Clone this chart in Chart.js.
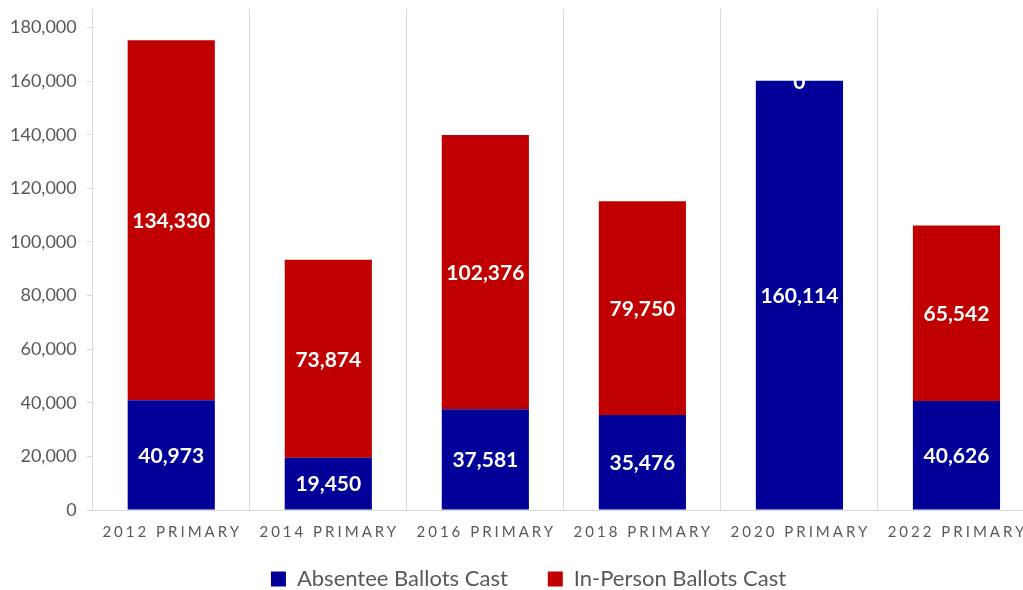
<!DOCTYPE html>
<html lang="en">
<head>
    <meta charset="UTF-8">
    <title>Primary Ballots Cast</title>
    <script src="https://cdn.jsdelivr.net/npm/chart.js"></script>
    <style>
        html, body { margin: 0; padding: 0; background: #fff; overflow: hidden; }
        #wrap { width: 1035px; height: 602px; margin-top: -12px; }
    </style>
</head>
<body>
    <div id="wrap">
        <canvas id="chart1"></canvas>
    </div>

    <script>
        var elecciones = ['2012 PRIMARY', '2014 PRIMARY', '2016 PRIMARY', '2018 PRIMARY', '2020 PRIMARY', '2022 PRIMARY'];
        var ausentes = [40973, 19450, 37581, 35476, 160114, 40626];
        var presenciales = [134330, 73874, 102376, 79750, 0, 65542];
        var marcasY = [0, 20000, 40000, 60000, 80000, 100000, 120000, 140000, 160000, 180000];

        var gris = '#595959';
        var fuente = 'Lato, "Open Sans", sans-serif';

        function miles(v) {
            return v.toString().replace(/\B(?=(\d{3})+(?!\d))/g, ',');
        }

        // etiquetas blancas centradas en cada segmento
        var etiquetas = {
            id: 'etiquetas',
            afterDatasetsDraw: function (chart) {
                var ctx = chart.ctx;
                ctx.save();
                ctx.fillStyle = '#ffffff';
                ctx.font = 'bold 21px ' + fuente;
                ctx.textAlign = 'center';
                ctx.textBaseline = 'middle';
                chart.data.datasets.forEach(function (ds, d) {
                    chart.getDatasetMeta(d).data.forEach(function (bar, i) {
                        var p = bar.getCenterPoint();
                        ctx.fillText(miles(ds.data[i]), p.x, p.y + 1);
                    });
                });
                ctx.restore();
            }
        };

        // nombres de categoria con espaciado entre letras
        var categorias = {
            id: 'categorias',
            afterLayout: function (chart) {
                // leyenda un poco a la derecha
                chart.legend.left += 11;
                chart.legend.right += 11;
            },
            afterDraw: function (chart) {
                var ctx = chart.ctx;
                var x = chart.scales.x;
                ctx.save();
                ctx.fillStyle = gris;
                ctx.font = '15px ' + fuente;
                ctx.letterSpacing = '3px';
                ctx.textAlign = 'center';
                ctx.textBaseline = 'middle';
                elecciones.forEach(function (e, i) {
                    ctx.fillText(e, x.getPixelForTick(i) + 1, x.top + 22);
                });
                ctx.restore();
            }
        };

        var ctx = document.getElementById('chart1').getContext('2d');
        var chart = new Chart(ctx, {
            type: 'bar',
            data: {
                labels: elecciones,
                datasets: [{
                    label: 'Absentee Ballots Cast',
                    data: ausentes,
                    backgroundColor: '#000099'
                }, {
                    label: 'In-Person Ballots Cast',
                    data: presenciales,
                    backgroundColor: '#C00000'
                }]
            },
            options: {
                responsive: true,
                maintainAspectRatio: false,
                animation: false,
                datasets: {
                    bar: { barPercentage: 1, categoryPercentage: 0.555 }
                },
                layout: { padding: { left: 0, right: 0, top: 0, bottom: -10 } },
                plugins: {
                    tooltip: { enabled: false },
                    legend: {
                        position: 'bottom',
                        labels: {
                            color: gris,
                            font: { family: fuente, size: 22 },
                            boxWidth: 15,
                            boxHeight: 15,
                            padding: 40
                        }
                    }
                },
                scales: {
                    x: {
                        stacked: true,
                        grid: { color: '#d9d9d9', lineWidth: 1, drawTicks: false, offset: true },
                        border: { color: '#d9d9d9' },
                        ticks: { color: 'rgba(0,0,0,0)', font: { family: fuente, size: 10 }, padding: 3, maxRotation: 0, autoSkip: false }
                    },
                    y: {
                        stacked: true,
                        min: 0,
                        max: 187000,
                        afterBuildTicks: function (scale) {
                            scale.ticks = marcasY.map(function (v) { return { value: v }; });
                        },
                        grid: { drawOnChartArea: false, drawTicks: true, tickLength: 6, color: '#d9d9d9' },
                        border: { display: false },
                        ticks: {
                            color: gris,
                            font: { family: fuente, size: 18 },
                            padding: 10,
                            callback: function (v) { return miles(v); }
                        }
                    }
                }
            },
            plugins: [etiquetas, categorias]
        });
    </script>
</body>
</html>
